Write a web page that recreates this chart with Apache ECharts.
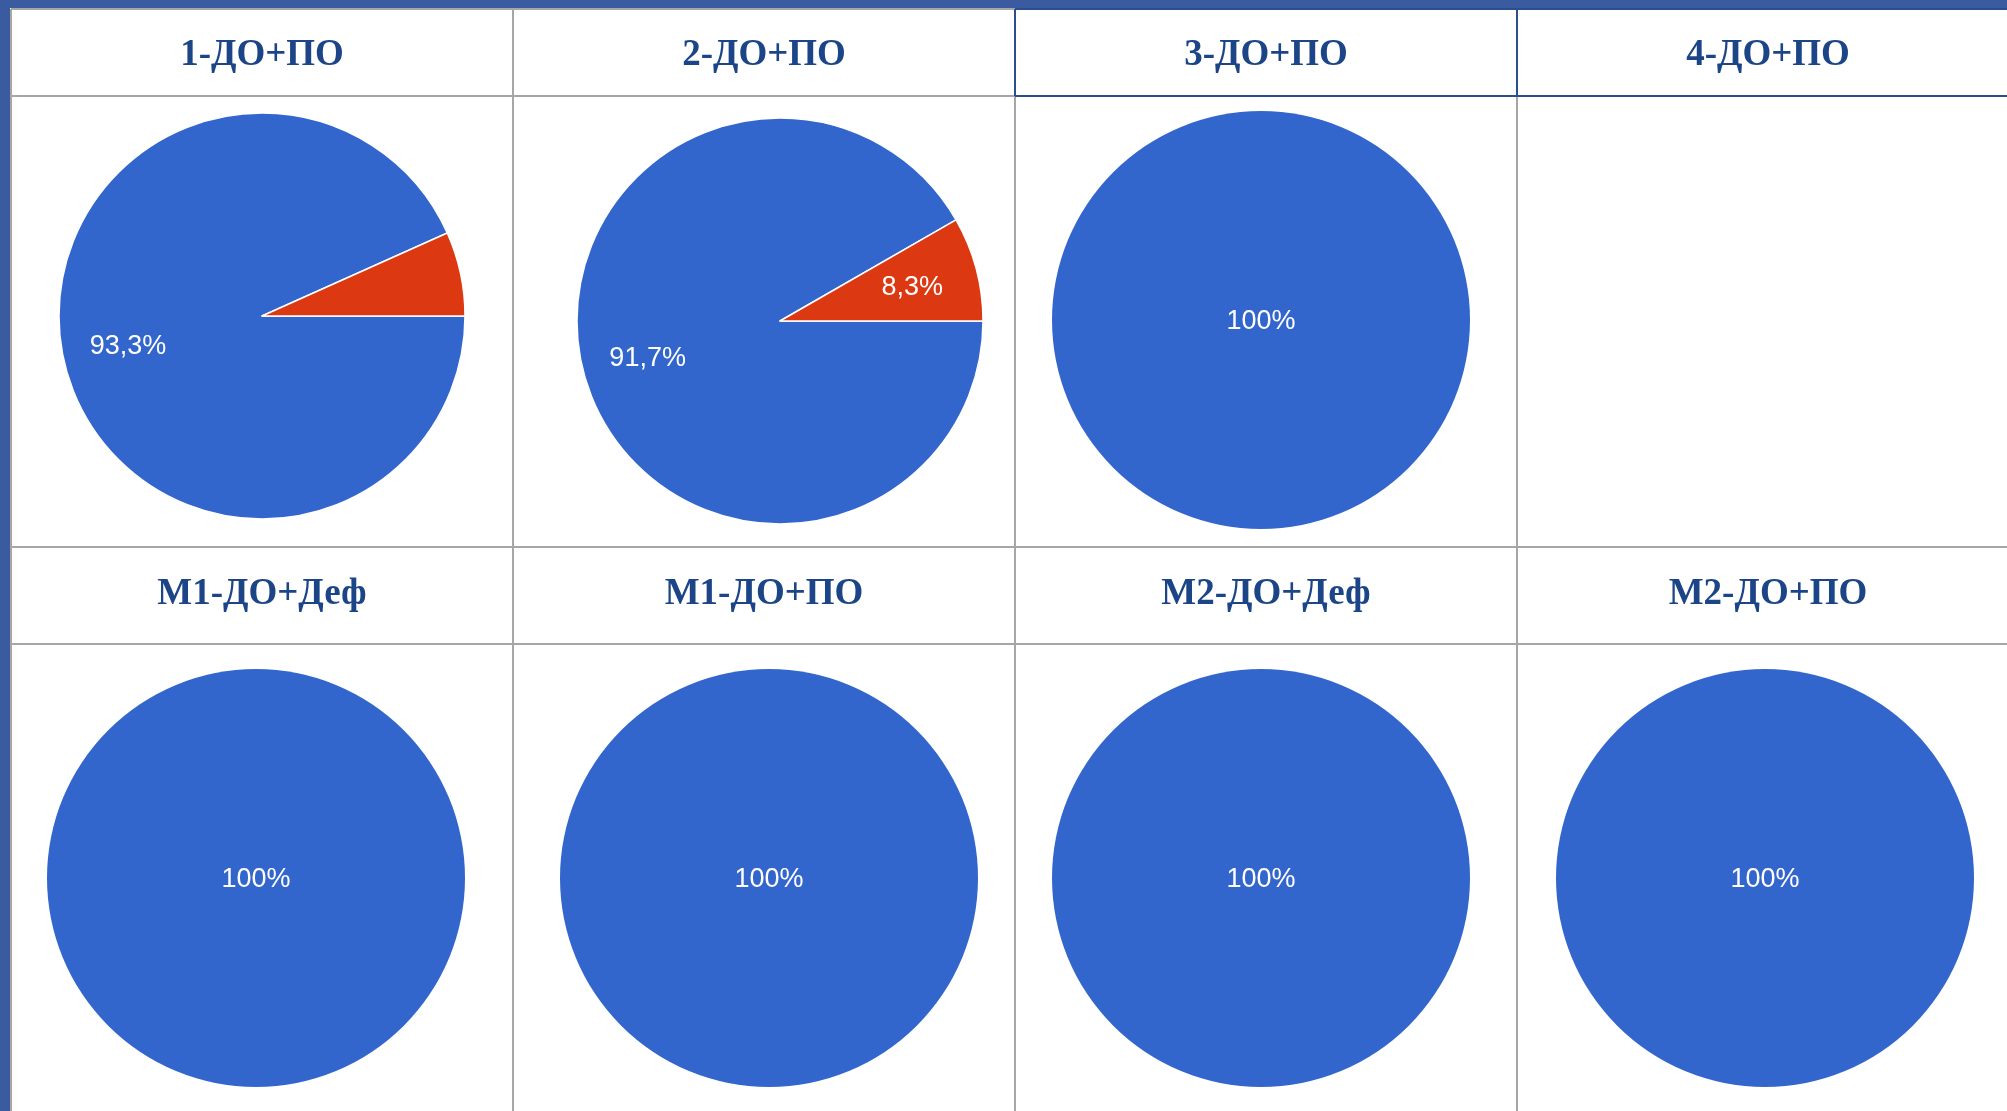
<!DOCTYPE html>
<html><head><meta charset="utf-8">
<script src="https://cdn.jsdelivr.net/npm/echarts@6/dist/echarts.min.js"></script>
<style>html,body{margin:0;padding:0;background:#fff;overflow:hidden}#c{width:2007px;height:1111px}</style>
</head><body><div id="c"></div>
<script>
// ---- data ----
const categories = ['1-ДО+ПО', '2-ДО+ПО', '3-ДО+ПО', '4-ДО+ПО', 'М1-ДО+Деф', 'М1-ДО+ПО', 'М2-ДО+Деф', 'М2-ДО+ПО'];
const sliceNames = ['Вариант 1', 'Вариант 2'];
const blueValues = [93.3, 91.7, 100, null, 100, 100, 100, 100];
const redValues  = [6.7, 8.3, 0, null, 0, 0, 0, 0];

// ---- layout ----
const colX = [11, 513, 1015, 1517];
const colW = 502;
const rowLines = [9, 96, 547, 644];
const headerMid = [55, 594];
const pieCenters = [[262,316],[780,321],[1261,320],null,[256,878],[769,878],[1261,878],[1765,878]];
const pieRadius = [203,203,209,null,209,209,209,209];
const colors = ['#3366cc', '#dc3912'];

function fmt(v){ return (Number.isInteger(v) ? String(v) : String(v).replace('.', ',')) + '%'; }

const chart = echarts.init(document.getElementById('c'), null, {renderer:'canvas'});

const graphics = [];
const gray = '#a6a6a6';
rowLines.forEach(y => graphics.push({type:'line', shape:{x1:colX[0], y1:y, x2:2007, y2:y}, style:{stroke:gray, lineWidth:2}, z:1}));
colX.forEach(x => graphics.push({type:'line', shape:{x1:x, y1:rowLines[0], x2:x, y2:1111}, style:{stroke:gray, lineWidth:2}, z:1}));
const dblue = '#2b4f8e';
graphics.push({type:'line', shape:{x1:colX[2], y1:rowLines[0], x2:2007, y2:rowLines[0]}, style:{stroke:dblue, lineWidth:2}, z:2});
graphics.push({type:'line', shape:{x1:colX[2], y1:rowLines[1], x2:2007, y2:rowLines[1]}, style:{stroke:dblue, lineWidth:2}, z:2});
graphics.push({type:'line', shape:{x1:colX[2], y1:rowLines[0], x2:colX[2], y2:rowLines[1]}, style:{stroke:dblue, lineWidth:2}, z:2});
graphics.push({type:'line', shape:{x1:colX[3], y1:rowLines[0], x2:colX[3], y2:rowLines[1]}, style:{stroke:dblue, lineWidth:2}, z:2});
graphics.push({type:'rect', shape:{x:0, y:0, width:2007, height:8}, style:{fill:'#3a5b9f'}, z:3});
graphics.push({type:'rect', shape:{x:0, y:0, width:10, height:1111}, style:{fill:'#3a5b9f'}, z:3});
categories.forEach((t, i) => {
  const col = i % 4, row = Math.floor(i / 4);
  graphics.push({type:'text', x: colX[col] + colW/2, y: headerMid[row], z:4,
    style:{text:t, font:'bold 37px "Liberation Serif", "Times New Roman", serif', fill:'#1c4587',
      align:'center', verticalAlign:'middle', textAlign:'center', textVerticalAlign:'middle'}});
});

const series = [];
categories.forEach((t, i) => {
  if (blueValues[i] == null) return;
  const data = [];
  if (blueValues[i] > 0) data.push({name: sliceNames[0], value: blueValues[i], itemStyle:{color:colors[0]}});
  if (redValues[i] > 0) data.push({name: sliceNames[1], value: redValues[i], itemStyle:{color:colors[1]}});
  const single = data.length === 1;
  const labelStyle = {color:'#fff', fontFamily:'"Liberation Sans", Arial, sans-serif', fontSize:27, offset:[0,2],
    formatter: p => p.value < 7 ? '' : fmt(p.value)};
  series.push({
    type:'pie', name:t, center: pieCenters[i], radius:[0, pieRadius[i]],
    startAngle:0, clockwise:true, animation:false, silent:true,
    itemStyle:{borderColor:'#fff', borderWidth: single ? 0 : 1.5},
    label: single ? Object.assign({show:true, position:'center'}, labelStyle) : {show:false},
    labelLine:{show:false}, emphasis:{disabled:true},
    data
  });
  if (!single) {
    series.push({
      type:'pie', name:t + ' labels', center: pieCenters[i], radius:[pieRadius[i]*0.32, pieRadius[i]],
      startAngle:0, clockwise:true, animation:false, silent:true,
      itemStyle:{color:'rgba(0,0,0,0)', borderWidth:0},
      label: Object.assign({show:true, position:'inside'}, labelStyle),
      labelLine:{show:false}, emphasis:{disabled:true}, z:3,
      data: data.map(d => ({name:d.name, value:d.value, itemStyle:{color:'rgba(0,0,0,0)'}}))
    });
  }
});

chart.setOption({
  backgroundColor:'#fff',
  animation:false,
  graphic:{elements: graphics},
  series
});
</script>
</body></html>
